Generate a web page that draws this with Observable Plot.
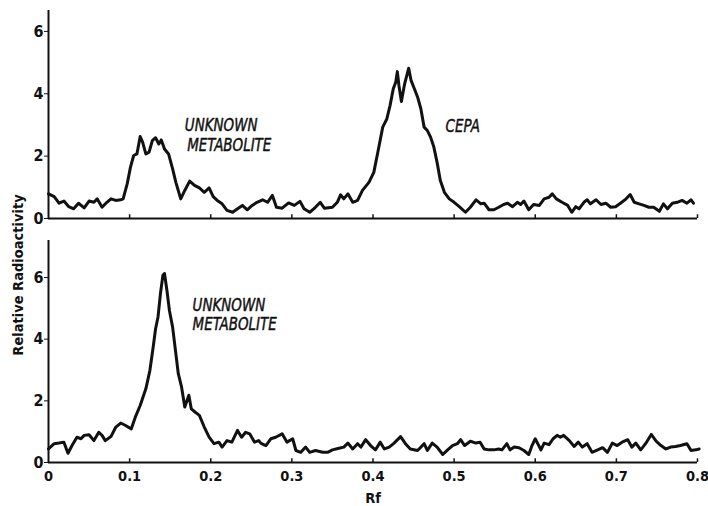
<!DOCTYPE html>
<html><head><meta charset="utf-8">
<script src="https://cdn.jsdelivr.net/npm/d3@7"></script>
<script src="https://cdn.jsdelivr.net/npm/@observablehq/plot@0.6"></script>
<style>
body{margin:0;background:#fff;}
#wrap{position:relative;width:708px;height:506px;overflow:hidden;}
#wrap svg{display:block;}
#ylab{position:absolute;left:18px;top:275px;transform:translate(-50%,-50%) rotate(-90deg);font:bold 14.5px "DejaVu Sans Condensed","DejaVu Sans",sans-serif;white-space:nowrap;color:#111;}
</style></head><body><div id="wrap"><div id="ylab">Relative Radioactivity</div></div>
<script>
// Top panel trace (Rf, relative radioactivity)
const topRf = [0.000,0.007,0.013,0.019,0.025,0.031,0.037,0.044,0.050,0.056,0.060,0.066,0.072,0.077,0.083,0.089,0.092,0.097,0.101,0.105,0.109,0.113,0.116,0.120,0.124,0.128,0.132,0.136,0.139,0.143,0.148,0.153,0.157,0.163,0.168,0.174,0.180,0.186,0.192,0.198,0.203,0.208,0.214,0.220,0.227,0.233,0.239,0.245,0.251,0.257,0.264,0.270,0.276,0.281,0.288,0.296,0.303,0.310,0.315,0.322,0.329,0.335,0.340,0.350,0.356,0.360,0.364,0.369,0.375,0.381,0.387,0.395,0.401,0.406,0.412,0.417,0.421,0.425,0.428,0.430,0.432,0.435,0.439,0.444,0.447,0.451,0.455,0.459,0.463,0.467,0.471,0.475,0.479,0.483,0.488,0.494,0.500,0.506,0.514,0.520,0.527,0.533,0.537,0.543,0.549,0.555,0.561,0.566,0.572,0.578,0.582,0.586,0.592,0.598,0.605,0.611,0.617,0.621,0.626,0.633,0.640,0.645,0.650,0.654,0.660,0.664,0.668,0.675,0.681,0.687,0.693,0.699,0.705,0.712,0.717,0.722,0.728,0.734,0.740,0.746,0.753,0.758,0.763,0.769,0.775,0.781,0.787,0.792,0.795];
const topActivity = [0.79,0.70,0.49,0.56,0.38,0.31,0.49,0.34,0.56,0.52,0.63,0.36,0.52,0.63,0.58,0.60,0.63,1.11,1.64,2.02,2.07,2.63,2.45,2.07,2.13,2.50,2.59,2.39,2.52,2.23,2.07,1.59,1.16,0.63,0.90,1.20,1.06,0.98,0.84,0.98,0.70,0.58,0.47,0.26,0.20,0.31,0.42,0.28,0.42,0.52,0.60,0.52,0.74,0.36,0.33,0.50,0.42,0.55,0.31,0.20,0.36,0.52,0.33,0.36,0.52,0.76,0.63,0.79,0.52,0.58,0.90,1.16,1.48,2.13,2.93,3.19,3.62,4.16,4.37,4.71,4.26,3.75,4.32,4.82,4.42,4.16,3.89,3.52,2.93,2.82,2.61,2.29,1.80,1.22,0.84,0.63,0.52,0.39,0.20,0.36,0.60,0.47,0.49,0.28,0.28,0.36,0.45,0.49,0.38,0.52,0.45,0.56,0.28,0.45,0.42,0.63,0.68,0.79,0.63,0.52,0.42,0.20,0.38,0.31,0.52,0.60,0.47,0.60,0.45,0.49,0.36,0.38,0.49,0.63,0.77,0.52,0.47,0.42,0.36,0.36,0.23,0.47,0.31,0.49,0.52,0.58,0.49,0.60,0.49];

// Bottom panel trace
const bottomRf = [0.000,0.007,0.013,0.019,0.024,0.029,0.035,0.040,0.044,0.050,0.056,0.062,0.066,0.070,0.077,0.083,0.089,0.095,0.102,0.107,0.113,0.120,0.125,0.129,0.132,0.135,0.138,0.141,0.143,0.146,0.149,0.153,0.156,0.160,0.164,0.168,0.173,0.176,0.181,0.186,0.192,0.198,0.204,0.210,0.214,0.220,0.226,0.233,0.238,0.243,0.248,0.254,0.259,0.262,0.268,0.274,0.280,0.288,0.294,0.301,0.305,0.311,0.317,0.322,0.329,0.338,0.344,0.350,0.358,0.364,0.369,0.375,0.381,0.385,0.391,0.397,0.403,0.409,0.414,0.420,0.426,0.434,0.440,0.446,0.455,0.463,0.467,0.473,0.479,0.486,0.492,0.498,0.504,0.508,0.513,0.520,0.527,0.532,0.537,0.543,0.549,0.555,0.559,0.565,0.569,0.574,0.580,0.586,0.592,0.596,0.600,0.607,0.611,0.617,0.622,0.627,0.631,0.635,0.642,0.648,0.653,0.658,0.664,0.670,0.677,0.683,0.689,0.695,0.701,0.707,0.714,0.719,0.724,0.730,0.736,0.743,0.749,0.755,0.761,0.767,0.773,0.779,0.787,0.792,0.798,0.802];
const bottomActivity = [0.44,0.61,0.63,0.66,0.30,0.55,0.82,0.77,0.88,0.90,0.71,0.98,0.88,0.71,0.84,1.15,1.28,1.20,1.09,1.47,1.85,2.39,2.99,3.74,4.34,4.72,5.48,6.07,6.13,5.58,4.94,4.39,3.74,2.88,2.45,1.80,2.18,1.74,1.63,1.53,1.15,0.82,0.61,0.66,0.50,0.71,0.66,1.04,0.82,0.98,0.93,0.66,0.71,0.62,0.55,0.77,0.82,0.93,0.66,0.77,0.39,0.33,0.50,0.33,0.39,0.33,0.33,0.41,0.46,0.50,0.63,0.44,0.61,0.50,0.74,0.55,0.41,0.66,0.44,0.50,0.63,0.84,0.61,0.44,0.39,0.61,0.39,0.63,0.50,0.26,0.41,0.55,0.61,0.74,0.55,0.69,0.63,0.66,0.44,0.41,0.41,0.44,0.41,0.61,0.41,0.50,0.48,0.39,0.26,0.55,0.77,0.41,0.63,0.58,0.77,0.88,0.82,0.88,0.71,0.52,0.66,0.50,0.61,0.33,0.41,0.48,0.33,0.63,0.55,0.66,0.74,0.50,0.63,0.41,0.61,0.91,0.69,0.55,0.44,0.50,0.52,0.55,0.61,0.39,0.41,0.44];

// Axis ticks
const xTicks = [0,0.1,0.2,0.3,0.4,0.5,0.6,0.7,0.8];
const yTicks = [0,2,4,6];

// Annotations
const topLabels = ["UNKNOWN","METABOLITE","CEPA"];
const topLabelRf = [0.168,0.171,0.4895];
const topLabelY = [2.98,2.34,2.95];
const bottomLabels = ["UNKNOWN","METABOLITE"];
const bottomLabelRf = [0.1776,0.1776];
const bottomLabelY = [5.10,4.48];

const toRows = (xs, ys) => xs.map((x, i) => ({x, y: ys[i]}));
const toLabels = (ts, xs, ys) => ts.map((t, i) => ({t, x: xs[i], y: ys[i]}));

const font = '"DejaVu Sans Condensed","DejaVu Sans",sans-serif';
const common = {
  width: 708, marginLeft: 48, marginRight: 11,
  style: {fontFamily: font, fontSize: "14.5px", fontWeight: "bold", color: "#111", background: "#fff"}
};
const annStyle = {text: "t", x: "x", y: "y", textAnchor: "start", fontFamily: font, fontStyle: "italic", fontWeight: "normal", fontSize: 18, fill: "#111", stroke: "#111", strokeWidth: 0.45};

const topPlot = Plot.plot({
  ...common, height: 230, marginTop: 10, marginBottom: 12,
  x: {domain: [0, 0.8], axis: null},
  y: {domain: [0, 6.67]},
  marks: [
    Plot.ruleY([0], {stroke: "#111", strokeWidth: 2}),
    Plot.ruleX([0], {stroke: "#111", strokeWidth: 2}),
    Plot.ruleX(xTicks.slice(1), {y1: 0, y2: 0.12, stroke: "#111", strokeWidth: 1.5}),
    Plot.axisY({ticks: yTicks, tickSize: 4, tickPadding: 1, fontSize: 16, tickFormat: d => String(d), label: null}),
    Plot.line(toRows(topRf, topActivity), {x: "x", y: "y", stroke: "#111", strokeWidth: 3, strokeLinejoin: "round"}),
    Plot.text(toLabels(topLabels, topLabelRf, topLabelY), annStyle)
  ]
});

const bottomPlot = Plot.plot({
  ...common, height: 276, marginTop: 10, marginBottom: 44,
  x: {domain: [0, 0.8]},
  y: {domain: [0, 7.2]},
  marks: [
    Plot.ruleY([0], {stroke: "#111", strokeWidth: 2}),
    Plot.ruleX([0], {stroke: "#111", strokeWidth: 2}),
    Plot.ruleX(xTicks.slice(1), {y1: 0, y2: 0.12, stroke: "#111", strokeWidth: 1.5}),
    Plot.axisY({ticks: yTicks, tickSize: 4, tickPadding: 1, fontSize: 16, tickFormat: d => String(d), label: null}),
    Plot.axisX({ticks: xTicks, tickSize: 0, tickPadding: 8, tickFormat: d => d === 0 ? "0" : d.toFixed(1), label: "Rf", labelAnchor: "center", labelOffset: 40, labelArrow: "none"}),
    Plot.line(toRows(bottomRf, bottomActivity), {x: "x", y: "y", stroke: "#111", strokeWidth: 3, strokeLinejoin: "round"}),
    Plot.text(toLabels(bottomLabels, bottomLabelRf, bottomLabelY), annStyle)
  ]
});

const wrap = document.getElementById("wrap");
wrap.insertBefore(bottomPlot, wrap.firstChild);
wrap.insertBefore(topPlot, bottomPlot);

// Condense the italic annotation lettering, as in the original figure
wrap.querySelectorAll('g[aria-label="text"] text').forEach(el => {
  const w = el.getComputedTextLength();
  el.setAttribute("textLength", (w * 0.83).toFixed(1));
  el.setAttribute("lengthAdjust", "spacingAndGlyphs");
});
</script>
</body></html>
